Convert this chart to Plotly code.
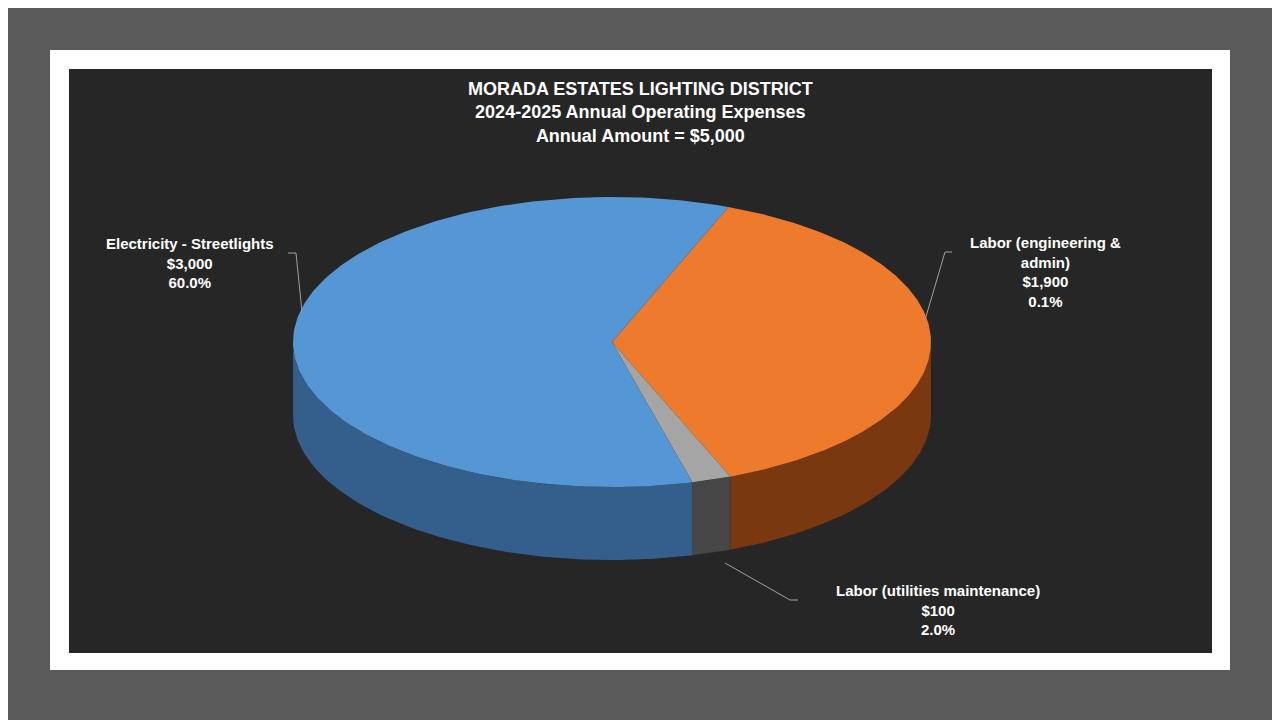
import numpy as np
import plotly.graph_objects as go

categories = ["Labor (engineering &<br>admin)", "Labor (utilities maintenance)", "Electricity - Streetlights"]
values = [1900, 100, 3000]
pct_labels = ["0.1%", "2.0%", "60.0%"]
top_colors = ["#ee7b2c", "#a5a5a5", "#5597d5"]
side_colors = ["#7a3810", "#464646", "#345f8c"]

CX, CY, RX, RY, DEPTH = 612, 342, 319, 145, 73
START = 68.6  # degrees, slices run clockwise

fig = go.Figure()
total = sum(values)
angles = [START]
for v in values:
    angles.append(angles[-1] - 360 * v / total)

def pt(a):
    r = np.radians(a)
    return CX + RX * np.cos(r), CY - RY * np.sin(r)

for i in range(len(values)):
    a1, a2 = angles[i], angles[i + 1]
    for off in (0, -360):
        lo, hi = max(a2 - off, -180), min(a1 - off, 0)
        if hi > lo:
            t = np.linspace(hi, lo, 80)
            x, y = pt(t)
            xs = np.concatenate([x, x[::-1]])
            ys = np.concatenate([y, (y + DEPTH)[::-1]])
            fig.add_trace(go.Scatter(x=xs, y=ys, fill="toself", mode="lines",
                                     line=dict(width=0), fillcolor=side_colors[i],
                                     hoverinfo="skip", showlegend=False))
for i in range(len(values)):
    t = np.linspace(angles[i], angles[i + 1], 200)
    x, y = pt(t)
    xs = np.concatenate([[CX], x, [CX]])
    ys = np.concatenate([[CY], y, [CY]])
    fig.add_trace(go.Scatter(x=xs, y=ys, fill="toself", mode="lines",
                             line=dict(width=0), fillcolor=top_colors[i],
                             hoverinfo="skip", showlegend=False))

font = dict(family="Liberation Sans, Arial", color="white", size=15)
label_pos = [(1045, 272), (938, 610), (190, 263)]
for i, (lx, ly) in enumerate(label_pos):
    fig.add_annotation(x=lx, y=ly, xref="x", yref="y", showarrow=False,
                       text=f"<b>{categories[i]}<br>${values[i]:,}<br>{pct_labels[i]}</b>",
                       font=font, align="center")

shapes = [
    dict(type="rect", x0=50, y0=50, x1=1230, y1=670, fillcolor="white", line_width=0, layer="below"),
    dict(type="rect", x0=69, y0=69, x1=1212, y1=653, fillcolor="#262626", line_width=0, layer="below"),
    dict(type="path", path="M 925 320 L 945 252 L 952 252", line=dict(color="#a0a0a0", width=1)),
    dict(type="path", path="M 725 563 L 790 600 L 798 600", line=dict(color="#a0a0a0", width=1)),
    dict(type="path", path="M 302 312 L 296 253 L 288 253", line=dict(color="#a0a0a0", width=1)),
]

fig.add_annotation(x=640, y=112, xref="x", yref="y", showarrow=False,
                   text="<b>MORADA ESTATES LIGHTING DISTRICT<br>2024-2025 Annual Operating Expenses<br>Annual Amount = $5,000</b>",
                   font=dict(family="Liberation Sans, Arial", color="white", size=18), align="center")

fig.update_layout(width=1280, height=720, margin=dict(l=0, r=0, t=0, b=0),
                  paper_bgcolor="#5a5a5a", plot_bgcolor="rgba(0,0,0,0)", shapes=shapes,
                  xaxis=dict(range=[8, 1288], visible=False, fixedrange=True),
                  yaxis=dict(range=[728, 8], visible=False, fixedrange=True))
fig.write_html("out.html")
